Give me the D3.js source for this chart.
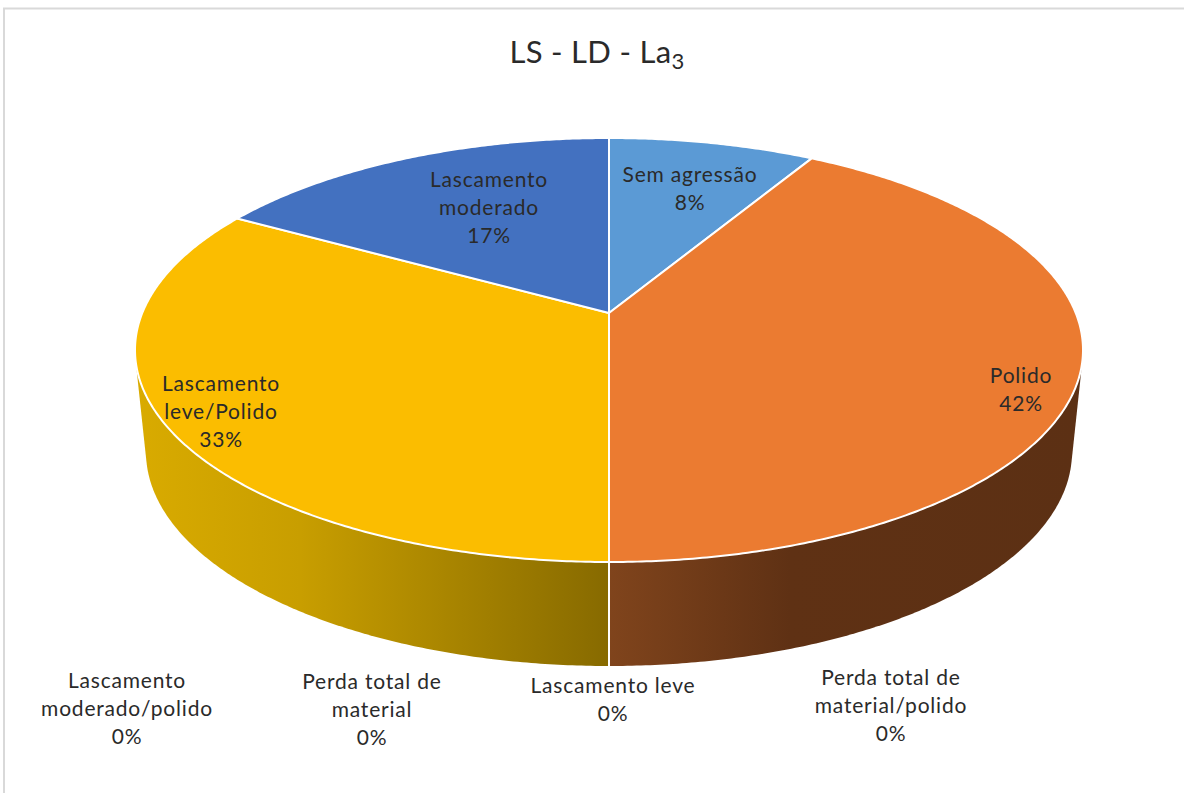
<!DOCTYPE html>
<html lang="pt">
<head>
<meta charset="utf-8">
<title>LS - LD - La3</title>
<script src="https://cdnjs.cloudflare.com/ajax/libs/d3/7.8.5/d3.min.js"></script>
<style>
  html, body { margin: 0; padding: 0; background: #fff; }
  svg { display: block; }
  text { font-family: Lato, "Open Sans", sans-serif; fill: #2a2a2a; }
</style>
</head>
<body>
<div id="chart"></div>
<script>
// Specimen counts per wear category, clockwise from twelve o'clock
const categories = [
  "Sem agressão",
  "Polido",
  "Perda total de material/polido",
  "Lascamento leve",
  "Perda total de material",
  "Lascamento moderado/polido",
  "Lascamento leve/Polido",
  "Lascamento moderado"
];
const counts = [1, 5, 0, 0, 0, 0, 4, 2];
const sliceColors = ["#5b9ad5", "#eb7b31", "#a5a5a5", "#70ad47", "#255e91", "#9e480e", "#fbbd00", "#4371c0"];

// Label anchors: horizontal centre and vertical centre of the first line
const labelAnchors = [
  [690, 175], [1021, 376], [891, 678], [613, 686],
  [372, 682], [127, 681], [221, 384], [489, 180]
];

const width = 1184, height = 793;
const lineHeight = 28, labelSize = 21, wrapChars = 15;

const svg = d3.select("#chart").append("svg")
  .attr("width", width).attr("height", height);

// Frame of the chart area (its right and bottom sides run off the page)
svg.append("path")
  .attr("d", "M4,793V8.5H1184")
  .attr("fill", "none").attr("stroke", "#d9d9d9").attr("stroke-width", 2);

// Perspective projection of a disc: returns [x, y] for a clock angle
function discProjection({cx, cy, rx, ry, k}) {
  const a = rx * Math.sqrt(1 - k * k);
  const b = ry * (1 - k * k);
  const apexY = cy - ry * k;
  const fn = angle => {
    const u = Math.sin(angle), v = -Math.cos(angle);
    const w = 1 - k * v;
    return [cx + a * u / w, apexY + b * v / w];
  };
  fn.apex = [cx, apexY];
  return fn;
}

const topDisc = discProjection({cx: 609, cy: 350, rx: 474, ry: 212, k: 0.1745});
const baseDisc = discProjection({cx: 609, cy: 452, rx: 463, ry: 214, k: 0.1745});

const pie = d3.pie().value(d => d).sort(null);
const slices = pie(counts).map((d, i) => ({...d, i}));
const visible = slices.filter(d => d.value > 0);

const percent = d3.format(".0%");
const total = d3.sum(counts);

const line = d3.line();
const sampleArc = (s, proj) => {
  const n = Math.max(2, Math.ceil((s.endAngle - s.startAngle) * 120));
  return d3.range(n + 1).map(j => proj(s.startAngle + (s.endAngle - s.startAngle) * j / n));
};

// Horizontal shading of the side wall, one gradient per visible front slice
const defs = svg.append("defs");
function wallGradient(id, stops) {
  const g = defs.append("linearGradient").attr("id", id)
    .attr("gradientUnits", "userSpaceOnUse")
    .attr("x1", 135).attr("x2", 1083).attr("y1", 0).attr("y2", 0);
  stops.forEach(([x, c]) => g.append("stop")
    .attr("offset", (x - 135) / 948).attr("stop-color", c));
}
wallGradient("wall-1", [[609, "#80441c"], [790, "#5f3114"], [1083, "#5c3014"]]);
wallGradient("wall-6", [[135, "#d9ab00"], [300, "#c89e00"], [609, "#876a00"]]);

// Side walls: hull of a slice's upper and lower rims, the top face covers the rest
const walls = svg.append("g");
walls.selectAll("path")
  .data(visible.filter(d => d.i === 1 || d.i === 6))
  .join("path")
  .attr("d", d => line(d3.polygonHull([...sampleArc(d, topDisc), ...sampleArc(d, baseDisc)])) + "Z")
  .attr("fill", d => `url(#wall-${d.i})`);

// Divider on the wall at six o'clock
const seam = visible.find(d => d.i === 1).endAngle;
walls.append("path")
  .attr("d", line([topDisc(seam), baseDisc(seam)]))
  .attr("stroke", "#fff").attr("stroke-width", 2).attr("fill", "none");

// Top face of the pie
svg.append("g").selectAll("path")
  .data(visible)
  .join("path")
  .attr("d", d => line([topDisc.apex, ...sampleArc(d, topDisc)]) + "Z")
  .attr("fill", d => sliceColors[d.i])
  .attr("stroke", "#fff").attr("stroke-width", 2).attr("stroke-linejoin", "round");

// Greedy word wrap of the category names
function wrap(name) {
  const lines = [];
  name.split(" ").forEach(word => {
    const last = lines[lines.length - 1];
    if (last !== undefined && (last + " " + word).length <= wrapChars) {
      lines[lines.length - 1] = last + " " + word;
    } else {
      lines.push(word);
    }
  });
  return lines;
}

// Data labels: name on one or two lines, share below
const labels = svg.append("g").selectAll("text")
  .data(slices)
  .join("text")
  .attr("text-anchor", "middle")
  .attr("letter-spacing", 0.8)
  .attr("font-size", labelSize);
labels.each(function(d) {
  const [x, y] = labelAnchors[d.i];
  const rows = [...wrap(categories[d.i]), percent(d.value / total)];
  d3.select(this).selectAll("tspan")
    .data(rows)
    .join("tspan")
    .attr("x", x)
    .attr("y", (_, r) => y + 7 + r * lineHeight)
    .text(t => t);
});

// Title with subscript
const title = svg.append("text")
  .attr("x", 597).attr("y", 63)
  .attr("text-anchor", "middle")
  .attr("letter-spacing", 0.3)
  .attr("font-size", 31);
title.append("tspan").text("LS - LD - La");
title.append("tspan").attr("font-size", 22).attr("dy", 6).text("3");
</script>
</body>
</html>
